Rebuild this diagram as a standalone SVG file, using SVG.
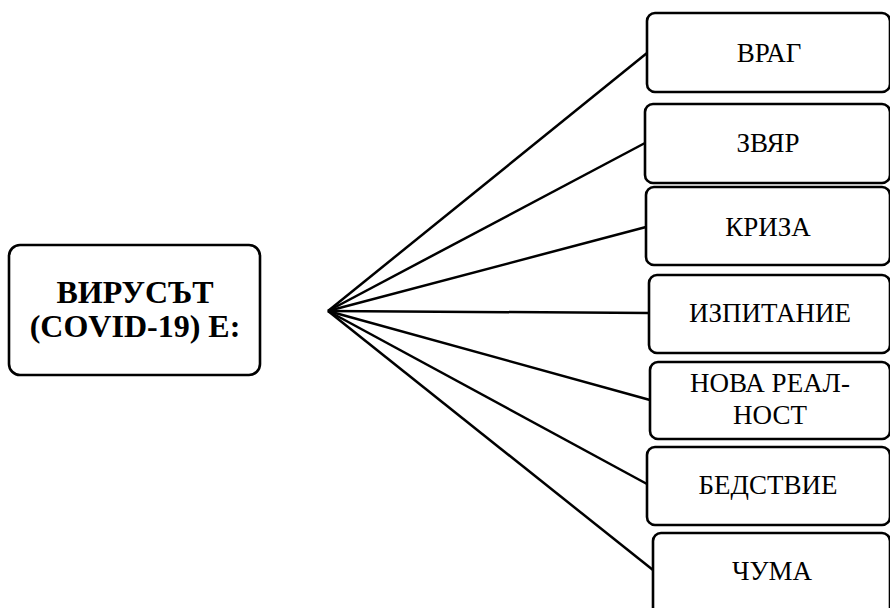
<svg xmlns="http://www.w3.org/2000/svg" width="890" height="608" viewBox="0 0 890 608">
<style>
.box{fill:#fff;stroke:#000;stroke-width:2.6}
.lbl{font-size:27px;text-anchor:middle;fill:#000}
.main{font-size:32px;font-weight:bold;text-anchor:middle;fill:#000}
.con line{stroke:#000;stroke-width:2.5}
</style>
<rect width="890" height="608" fill="#fff"/>
<g class="con" id="connectors">
<line x1="328" y1="311" x2="647" y2="53"/>
<line x1="328" y1="311" x2="645" y2="143"/>
<line x1="328" y1="311" x2="646" y2="227"/>
<line x1="328" y1="311" x2="649" y2="313"/>
<line x1="328" y1="311" x2="650" y2="400"/>
<line x1="328" y1="311" x2="647" y2="484"/>
<line x1="328" y1="311" x2="653" y2="570"/>
</g>
<g font-family="Liberation Serif, serif">
<g id="main">
<rect class="box" x="9" y="245" width="251" height="130" rx="11"/>
<text class="main" x="135" y="303">ВИРУСЪТ</text>
<text class="main" x="135" y="337">(COVID-19) Е:</text>
</g>
<g id="n1"><rect class="box" x="647" y="13" width="243" height="79" rx="8"/><text class="lbl" x="769" y="62">ВРАГ</text></g>
<g id="n2"><rect class="box" x="645" y="104" width="245" height="79" rx="8"/><text class="lbl" x="768" y="152">ЗВЯР</text></g>
<g id="n3"><rect class="box" x="646" y="187" width="244" height="78" rx="8"/><text class="lbl" x="768" y="236">КРИЗА</text></g>
<g id="n4"><rect class="box" x="649" y="275" width="241" height="78" rx="8"/><text class="lbl" x="770" y="322">ИЗПИТАНИЕ</text></g>
<g id="n5"><rect class="box" x="650" y="362" width="240" height="77" rx="8"/><text class="lbl" x="770" y="392">НОВА РЕАЛ-</text><text class="lbl" x="770" y="424">НОСТ</text></g>
<g id="n6"><rect class="box" x="647" y="447" width="243" height="78" rx="8"/><text class="lbl" x="768" y="494">БЕДСТВИЕ</text></g>
<g id="n7"><rect class="box" x="653" y="533" width="237" height="85" rx="8"/><text class="lbl" x="772" y="580">ЧУМА</text></g>
</g>
</svg>
